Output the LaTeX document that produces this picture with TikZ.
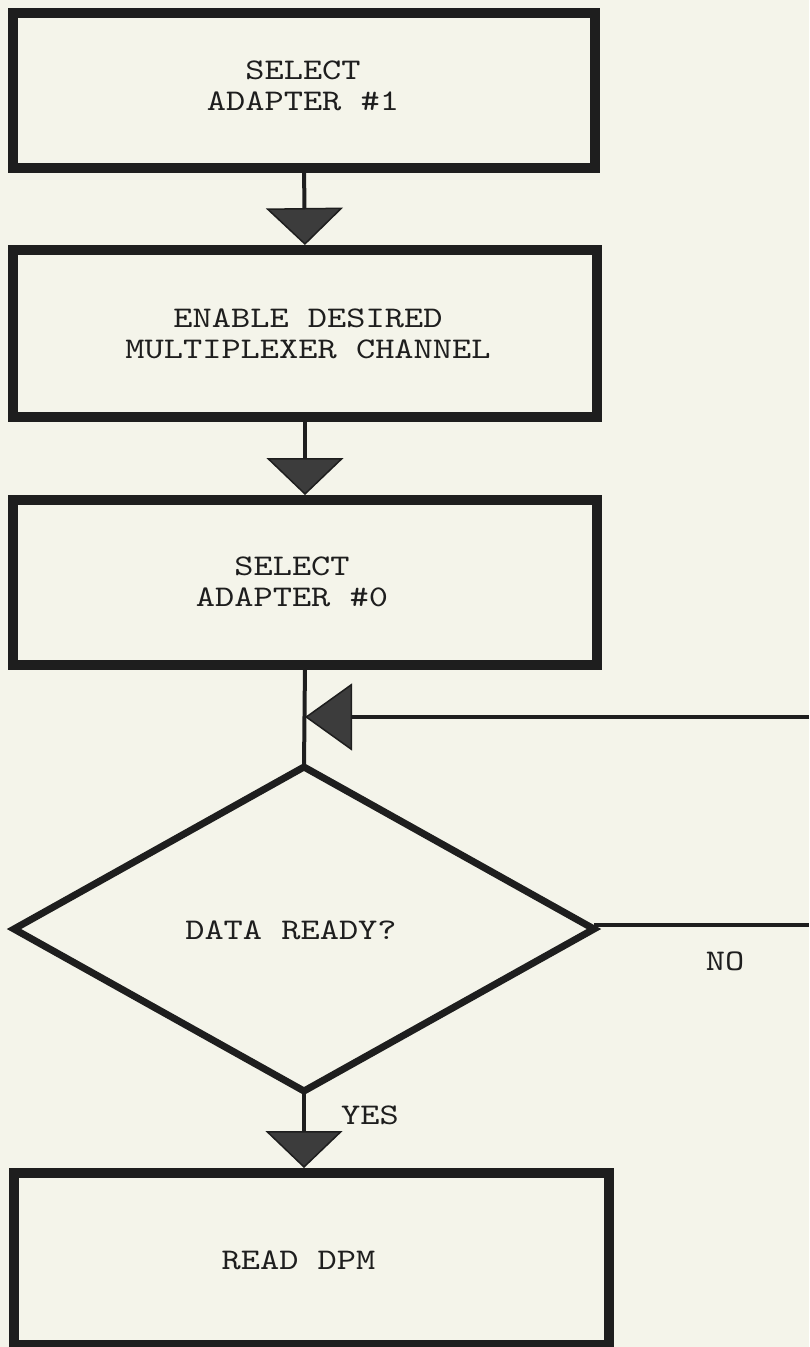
\documentclass[tikz,border=0pt]{standalone}
\usepackage{fontspec}
\newfontfamily\typewriter{lmmono10-regular.otf}[FakeStretch=1.22]
\usetikzlibrary{shapes.geometric,arrows.meta}
\definecolor{paper}{HTML}{F4F4EA}
\definecolor{ink}{HTML}{1E1E1E}
\definecolor{headfill}{HTML}{3C3C3C}
\begin{document}
\begin{tikzpicture}[x=1pt,y=-1pt,
  procbox/.style={draw=ink, line width=10pt, rectangle, inner sep=0pt, outer sep=0pt},
  decision/.style={draw=ink, line width=7pt, diamond, inner sep=0pt, outer sep=0pt,
    minimum width=580pt, minimum height=324pt},
  caption/.style={font=\fontsize{30}{31}\selectfont\typewriter, text=ink, align=center, inner sep=0pt},
  conn/.style={draw=ink, line width=4pt},
  flow/.style={conn, shorten >=5pt,
    -{Triangle[width=77pt,length=37pt,line width=1.5pt,fill=headfill]}},
  backflow/.style={conn,
    -{Triangle[width=67pt,length=47pt,line width=1.5pt,fill=headfill]}}
]
\fill[paper] (0,0) rectangle (809,1347);
\useasboundingbox (0,0) rectangle (809,1347);

% process boxes
\node[procbox, minimum width=582pt, minimum height=155pt] (b1) at (304,90.5) {};
\node[procbox, minimum width=584pt, minimum height=167pt] (b2) at (305,333.5) {};
\node[procbox, minimum width=584pt, minimum height=165pt] (b3) at (305,582.5) {};
\node[procbox, minimum width=595pt, minimum height=172pt] (b4) at (311.5,1259) {};

% decision
\node[decision] (dec) at (304,929) {};

% box texts
\node[caption] (t1) at (303,86) {SELECT\\ADAPTER \#1};
\node[caption] (t2) at (308,333.5) {ENABLE DESIRED\\MULTIPLEXER CHANNEL};
\node[caption] (t3) at (292,582) {SELECT\\ADAPTER \#0};
\node[caption] (t4) at (298.5,1260) {READ DPM};
\node[caption] (td) at (291,930) {DATA READY?};
\node[caption] (lno) at (725,961) {NO};
\node[caption] (lyes) at (370,1115) {YES};

% connectors
\coordinate (join) at (305,717);
\coordinate (loopin) at (809,717);
\coordinate (noout) at (809,925);

\draw[flow] (b1.south) -- (b2.north);
\draw[flow] (b2.south) -- (b3.north);
\draw[conn] (b3.south) -- (dec.north);
\draw[backflow] (loopin) -- (join);
\draw[conn] (dec.east |- noout) -- (noout);
\draw[flow] (dec.south) -- (dec.south |- b4.north);
\end{tikzpicture}
\end{document}
